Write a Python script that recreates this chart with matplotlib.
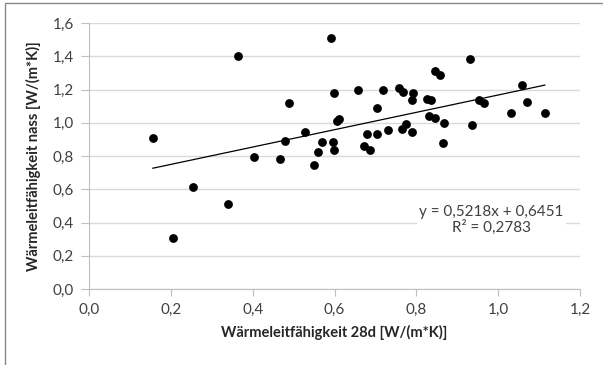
import matplotlib
matplotlib.use("Agg")
import matplotlib.pyplot as plt
from matplotlib.patches import Rectangle
import numpy as np

# data
x_28d = [0.156, 0.205, 0.254, 0.339, 0.364, 0.404, 0.468, 0.479, 0.488, 0.528,
         0.549, 0.559, 0.569, 0.591, 0.597, 0.599, 0.599, 0.606, 0.610, 0.657,
         0.673, 0.679, 0.687, 0.703, 0.705, 0.718, 0.730, 0.758, 0.765, 0.767,
         0.775, 0.789, 0.789, 0.791, 0.825, 0.832, 0.837, 0.845, 0.846, 0.859,
         0.866, 0.868, 0.931, 0.937, 0.954, 0.966, 1.031, 1.058, 1.070, 1.114]
y_nass = [0.906, 0.309, 0.613, 0.511, 1.400, 0.794, 0.784, 0.890, 1.119, 0.942,
          0.746, 0.822, 0.886, 1.508, 0.886, 1.177, 0.836, 1.010, 1.022, 1.197,
          0.860, 0.934, 0.836, 0.934, 1.091, 1.197, 0.954, 1.209, 0.964, 1.187,
          0.992, 0.944, 1.135, 1.179, 1.141, 1.043, 1.135, 1.311, 1.027, 1.289,
          0.876, 0.998, 1.385, 0.988, 1.135, 1.119, 1.061, 1.227, 1.125, 1.061]

slope = 0.5218
intercept = 0.6451
r2 = 0.2783

xticks = [0.0, 0.2, 0.4, 0.6, 0.8, 1.0, 1.2]
yticks = [0.0, 0.2, 0.4, 0.6, 0.8, 1.0, 1.2, 1.4, 1.6]

plt.rcParams['font.family'] = ['Lato', 'DejaVu Sans']

fig = plt.figure(figsize=(6.03, 3.65), dpi=100)
ax = fig.add_axes([89/603, 76/365, 491/603, 266/365])

# outer chart border
fig.patches.append(Rectangle((5/603, -0.1), 1.2, 1 - 3/365 + 0.1, transform=fig.transFigure,
                             fill=False, edgecolor='#888888', linewidth=1.0))

ax.scatter(x_28d, y_nass, s=40, color='black', zorder=3, linewidths=0)

xl = np.array([min(x_28d), max(x_28d)])
ax.plot(xl, slope * xl + intercept, color='black', linewidth=0.9, zorder=2)

ax.set_xlim(0, 1.2)
ax.set_ylim(0, 1.6)
ax.set_xticks(xticks)
ax.set_yticks(yticks)
fmt = lambda v: f"{v:.1f}".replace('.', ',')
ax.set_xticklabels([fmt(v) for v in xticks])
ax.set_yticklabels([fmt(v) for v in yticks])

ax.grid(axis='y', color='#d9d9d9', linewidth=1.0)
ax.set_axisbelow(True)
for s in ['top', 'right']:
    ax.spines[s].set_visible(False)
for s in ['left', 'bottom']:
    ax.spines[s].set_color('#bfbfbf')
ax.tick_params(axis='both', direction='out', length=5, color='#bfbfbf',
               labelsize=11, labelcolor='#404040', pad=5)
ax.tick_params(axis='y', length=6)

ax.set_xlabel("Wärmeleitfähigkeit 28d [W/(m*K)]", fontsize=10.5, fontweight='bold',
              color='#262626', labelpad=6)
ax.set_ylabel("Wärmeleitfähigkeit nass [W/(m*K)]", fontsize=10.5, fontweight='bold',
              color='#262626', labelpad=8)

ax.text(0.984, 0.415, f"y = {slope:.4f}x + {intercept:.4f}".replace('.', ',') + "\n"
        + f"R² = {r2:.4f}".replace('.', ','),
        ha='center', va='center', fontsize=11, color='#404040', linespacing=1.05,
        bbox=dict(facecolor='white', edgecolor='none', pad=1.5), zorder=4)

fig.savefig("out.png", dpi=100)
